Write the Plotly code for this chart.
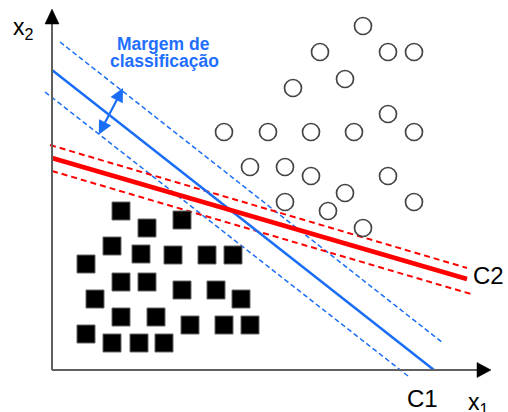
import plotly.graph_objects as go

# ---------------- data (chart units, origin at the axes corner) ----------------
circle_x1 = [31.1, 26.8, 33.6, 36.2, 29.3, 24.1, 33.6, 17.2, 21.6, 25.9, 30.2, 36.2,
             19.8, 23.3, 25.9, 33.6, 29.3, 23.3, 36.2, 27.6, 31.1]
circle_x2 = [34.4, 31.8, 31.8, 31.8, 29.1, 28.2, 25.6, 23.8, 23.8, 23.8, 23.8, 23.8,
             20.3, 20.3, 19.4, 19.4, 17.7, 16.8, 16.8, 15.9, 14.2]

square_x1 = [6.9, 9.5, 13.0, 6.0, 8.9, 12.1, 15.5, 18.1, 3.4, 6.9, 9.5, 13.0,
             16.4, 18.9, 4.3, 6.9, 10.4, 13.8, 17.2, 19.8, 3.4, 6.0, 8.7, 11.2]
square_x2 = [15.9, 14.2, 15.0, 12.4, 11.6, 11.5, 11.5, 11.5, 10.6, 8.8, 8.8, 8.0,
             8.0, 7.1, 7.1, 5.3, 5.3, 4.5, 4.5, 4.5, 3.6, 2.7, 2.7, 2.7]

# separating lines (endpoints)
c1_x, c1_y = [0.0, 38.2], [30.0, 0.0]
c1_up_x, c1_up_y = [0.8, 39.1], [32.8, 2.7]
c1_lo_x, c1_lo_y = [-0.7, 35.6], [27.8, -0.6]
c2_x, c2_y = [0.0, 41.5], [21.2, 9.1]
c2_up_x, c2_up_y = [-0.2, 41.5], [22.5, 10.2]
c2_lo_x, c2_lo_y = [0.0, 41.9], [19.9, 7.6]

# margin arrow (tail -> head)
margin_tail = (4.6, 23.4)
margin_head = (7.1, 28.2)

# axes extents
x_axis_end = 42.5
y_axis_end = 34.6
arrow_len = 1.5
arrow_half = 0.7

x_range = [-5.2, 45.6]
y_range = [-4.2, 37.0]

BLUE = "#1a6ef5"
RED = "#ff0000"
TXT_BLUE = "#1f6fff"
FONT = "Liberation Sans, Arial, sans-serif"

fig = go.Figure()

# dashed margins
for xs, ys in [(c1_up_x, c1_up_y), (c1_lo_x, c1_lo_y)]:
    fig.add_trace(go.Scatter(x=xs, y=ys, mode="lines",
                             line=dict(color=BLUE, width=1.5, dash="5px,3px"),
                             hoverinfo="skip"))
for xs, ys in [(c2_up_x, c2_up_y), (c2_lo_x, c2_lo_y)]:
    fig.add_trace(go.Scatter(x=xs, y=ys, mode="lines",
                             line=dict(color=RED, width=2, dash="6px,4px"),
                             hoverinfo="skip"))
# solid separators
fig.add_trace(go.Scatter(x=c1_x, y=c1_y, mode="lines",
                         line=dict(color=BLUE, width=2.5), hoverinfo="skip"))
fig.add_trace(go.Scatter(x=c2_x, y=c2_y, mode="lines",
                         line=dict(color=RED, width=4.5), hoverinfo="skip"))

# classes
fig.add_trace(go.Scatter(x=circle_x1, y=circle_x2, mode="markers",
                         marker=dict(symbol="circle-open", size=17, color="#444444",
                                     line=dict(color="#444444", width=1.7))))
fig.add_trace(go.Scatter(x=square_x1, y=square_x2, mode="markers",
                         marker=dict(symbol="square", size=18, color="black",
                                     line=dict(color="#666666", width=1))))

shapes = [
    dict(type="line", x0=0, y0=0, x1=0, y1=y_axis_end, xref="x", yref="y",
         line=dict(color="#606060", width=2)),
    dict(type="line", x0=0, y0=0, x1=x_axis_end, y1=0, xref="x", yref="y",
         line=dict(color="#606060", width=2)),
    dict(type="path", xref="x", yref="y",
         path=f"M {-arrow_half} {y_axis_end} L {arrow_half} {y_axis_end} L 0 {y_axis_end + arrow_len} Z",
         fillcolor="black", line=dict(color="black", width=0.5)),
    dict(type="path", xref="x", yref="y",
         path=f"M {x_axis_end} {-arrow_half - 0.05} L {x_axis_end} {arrow_half + 0.05} L {x_axis_end + arrow_len - 0.1} 0 Z",
         fillcolor="black", line=dict(color="black", width=0.5)),
]

annotations = [
    dict(x=margin_head[0], y=margin_head[1], ax=margin_tail[0], ay=margin_tail[1],
         xref="x", yref="y", axref="x", ayref="y", text="", showarrow=True,
         arrowside="end+start", arrowhead=2, startarrowhead=2,
         arrowsize=1.25, startarrowsize=1.25, arrowwidth=2.2, arrowcolor=BLUE),
    dict(x=11.15, y=32.65, xref="x", yref="y", text="<b>Margem de</b>", showarrow=False,
         font=dict(family=FONT, size=17.5, color=TXT_BLUE), xanchor="center", yanchor="middle"),
    dict(x=11.25, y=30.95, xref="x", yref="y", text="<b>classificação</b>", showarrow=False,
         font=dict(family=FONT, size=17.5, color=TXT_BLUE), xanchor="center", yanchor="middle"),
    dict(x=-4.1, y=34.2, xref="x", yref="y", text="x<sub>2</sub>", showarrow=False,
         font=dict(family=FONT, size=23, color="black"), xanchor="left", yanchor="middle"),
    dict(x=41.4, y=-3.3, xref="x", yref="y", text="x<sub>1</sub>", showarrow=False,
         font=dict(family=FONT, size=23, color="black"), xanchor="left", yanchor="middle"),
    dict(x=35.3, y=-2.85, xref="x", yref="y", text="C1", showarrow=False,
         font=dict(family=FONT, size=24, color="black"), xanchor="left", yanchor="middle"),
    dict(x=41.9, y=9.5, xref="x", yref="y", text="C2", showarrow=False,
         font=dict(family=FONT, size=24, color="black"), xanchor="left", yanchor="middle"),
]

fig.update_layout(
    width=508, height=412,
    margin=dict(l=0, r=0, t=0, b=0),
    paper_bgcolor="white", plot_bgcolor="white",
    showlegend=False,
    xaxis=dict(range=x_range, visible=False, fixedrange=True),
    yaxis=dict(range=y_range, visible=False, fixedrange=True),
    shapes=shapes,
    annotations=annotations,
)

fig.write_html("out.html", config={"displayModeBar": False},
               post_script="document.body.style.margin='0';document.body.style.overflow='hidden';")
